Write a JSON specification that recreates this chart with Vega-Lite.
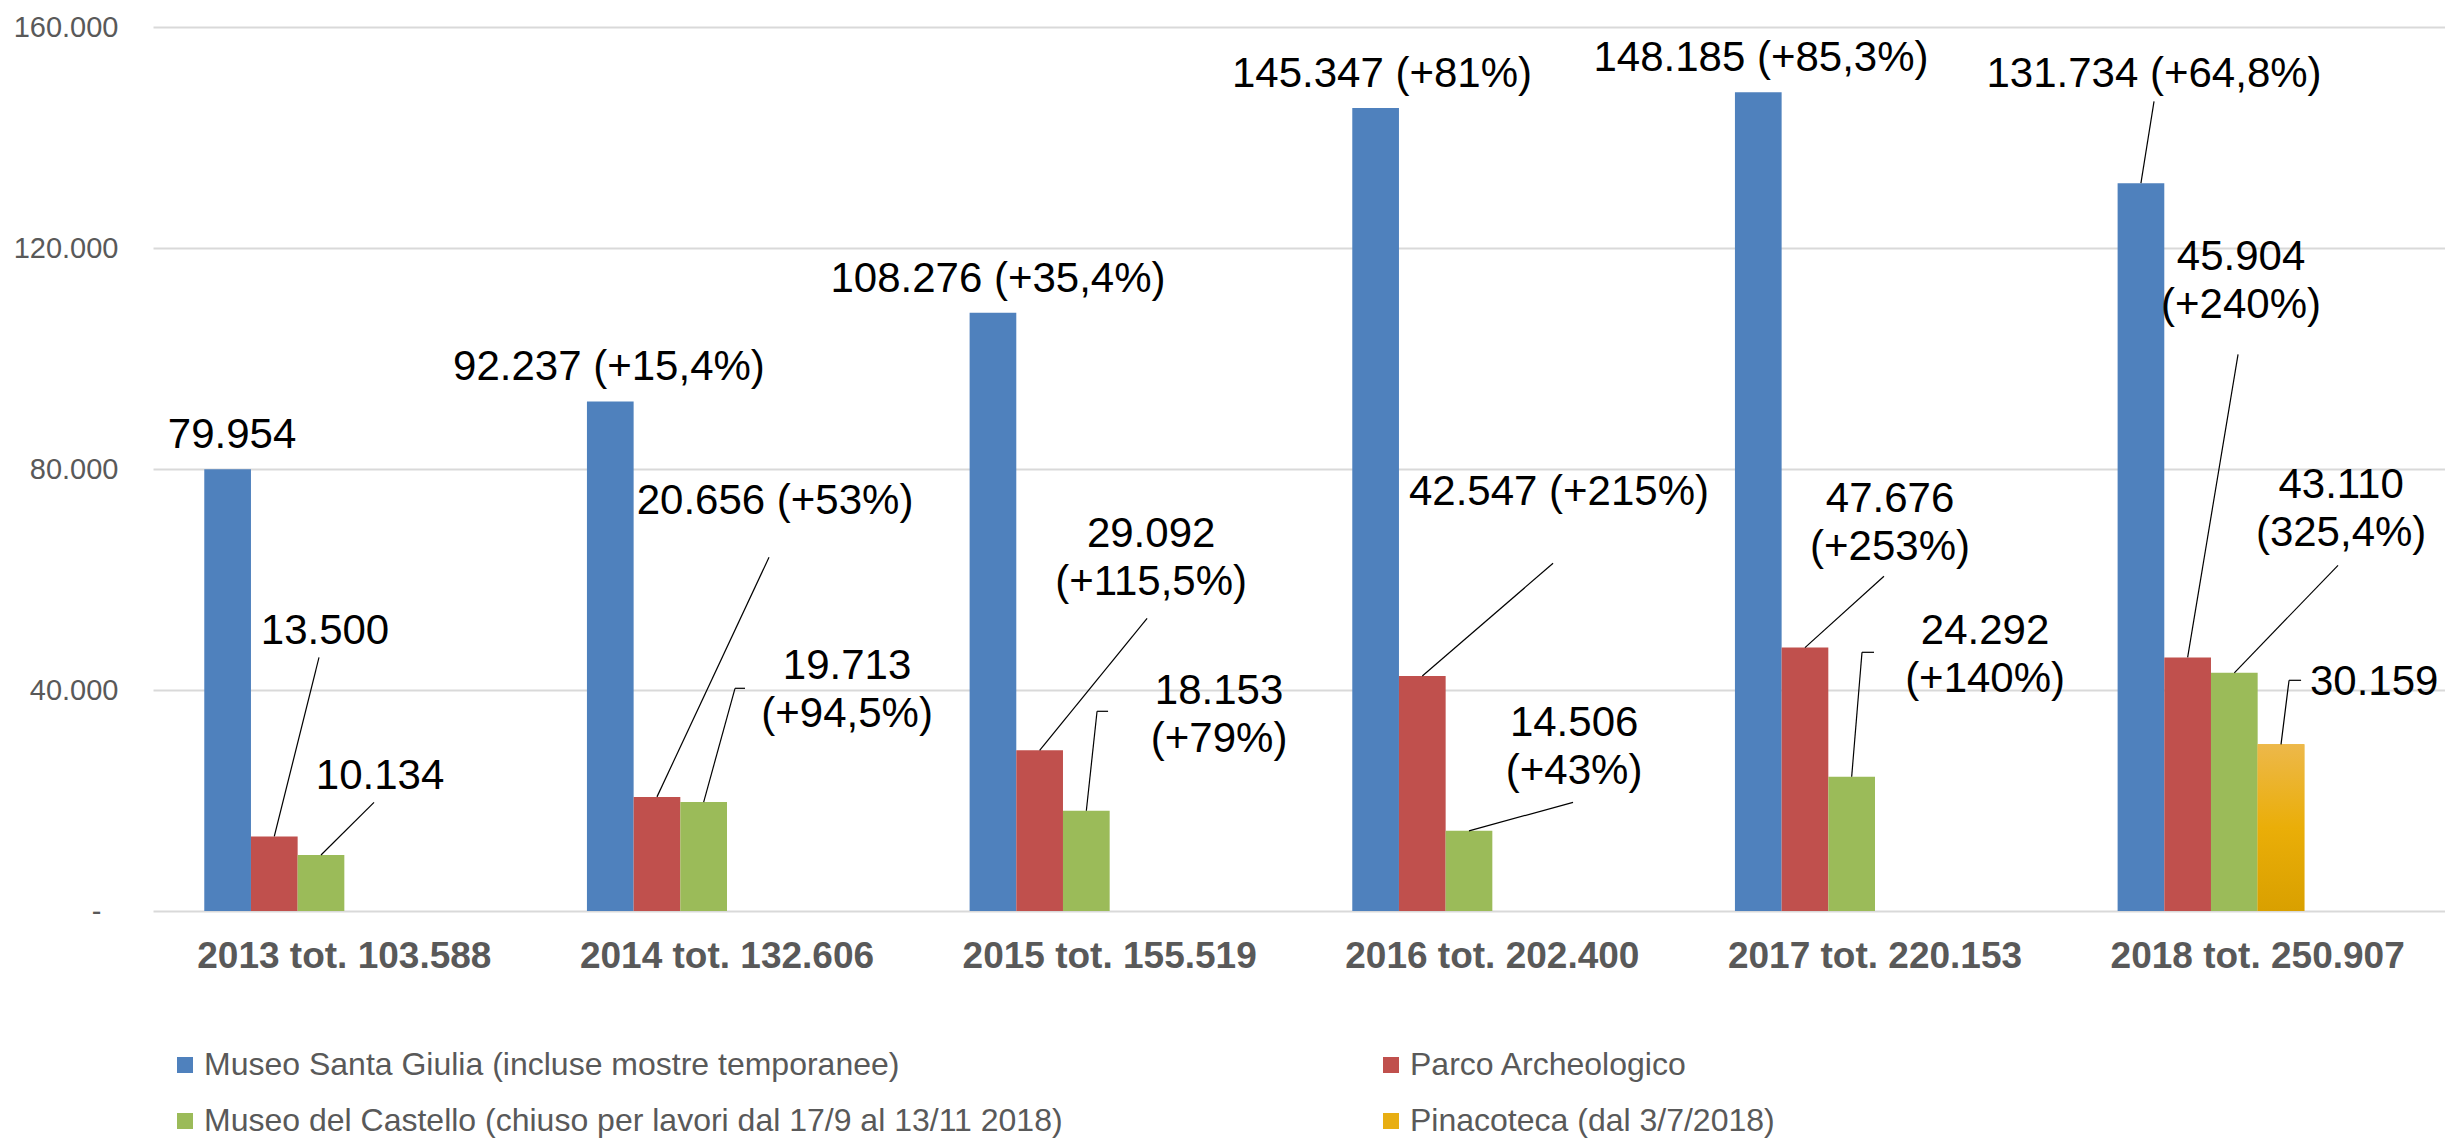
{
  "$schema": "https://vega.github.io/schema/vega-lite/v6.json",
  "width": 2296,
  "height": 884,
  "padding": {"left": 13, "top": 13, "right": 0, "bottom": 0},
  "background": "white",
  "data": {"values": [
    {"year": "2013 tot. 103.588", "series": "Museo Santa Giulia (incluse mostre temporanee)", "value": 79954, "label": "79.954"},
    {"year": "2013 tot. 103.588", "series": "Parco Archeologico", "value": 13500, "label": "13.500"},
    {"year": "2013 tot. 103.588", "series": "Museo del Castello (chiuso per lavori dal 17/9 al 13/11 2018)", "value": 10134, "label": "10.134"},
    {"year": "2014 tot. 132.606", "series": "Museo Santa Giulia (incluse mostre temporanee)", "value": 92237, "label": "92.237 (+15,4%)"},
    {"year": "2014 tot. 132.606", "series": "Parco Archeologico", "value": 20656, "label": "20.656  (+53%)"},
    {"year": "2014 tot. 132.606", "series": "Museo del Castello (chiuso per lavori dal 17/9 al 13/11 2018)", "value": 19713, "label": "19.713\n(+94,5%)"},
    {"year": "2015 tot. 155.519", "series": "Museo Santa Giulia (incluse mostre temporanee)", "value": 108276, "label": "108.276  (+35,4%)"},
    {"year": "2015 tot. 155.519", "series": "Parco Archeologico", "value": 29092, "label": "29.092\n(+115,5%)"},
    {"year": "2015 tot. 155.519", "series": "Museo del Castello (chiuso per lavori dal 17/9 al 13/11 2018)", "value": 18153, "label": "18.153\n(+79%)"},
    {"year": "2016 tot. 202.400", "series": "Museo Santa Giulia (incluse mostre temporanee)", "value": 145347, "label": "145.347 (+81%)"},
    {"year": "2016 tot. 202.400", "series": "Parco Archeologico", "value": 42547, "label": "42.547 (+215%)"},
    {"year": "2016 tot. 202.400", "series": "Museo del Castello (chiuso per lavori dal 17/9 al 13/11 2018)", "value": 14506, "label": "14.506\n(+43%)"},
    {"year": "2017 tot. 220.153", "series": "Museo Santa Giulia (incluse mostre temporanee)", "value": 148185, "label": "148.185 (+85,3%)"},
    {"year": "2017 tot. 220.153", "series": "Parco Archeologico", "value": 47676, "label": "47.676\n(+253%)"},
    {"year": "2017 tot. 220.153", "series": "Museo del Castello (chiuso per lavori dal 17/9 al 13/11 2018)", "value": 24292, "label": "24.292\n(+140%)"},
    {"year": "2018 tot. 250.907", "series": "Museo Santa Giulia (incluse mostre temporanee)", "value": 131734, "label": "131.734 (+64,8%)"},
    {"year": "2018 tot. 250.907", "series": "Parco Archeologico", "value": 45904, "label": "45.904\n(+240%)"},
    {"year": "2018 tot. 250.907", "series": "Museo del Castello (chiuso per lavori dal 17/9 al 13/11 2018)", "value": 43110, "label": "43.110\n(325,4%)"},
    {"year": "2018 tot. 250.907", "series": "Pinacoteca (dal 3/7/2018)", "value": 30159, "label": "30.159"}
  ]},
  "layer": [
    {
      "mark": {"type": "bar"},
      "encoding": {
        "x": {"field": "year", "type": "nominal", "title": null,
          "scale": {"paddingInner": 0.268, "paddingOuter": 0.134},
          "axis": {"title": null, "domain": false, "ticks": false, "tickSize": 0, "labelAngle": 0, "labelFontSize": 37, "labelFontWeight": "bold", "labelColor": "#595959", "labelFont": "Liberation Sans", "labelPadding": 27, "labelLimit": 1000}},
        "xOffset": {"field": "series", "type": "nominal",
          "scale": {"domain": ["Museo Santa Giulia (incluse mostre temporanee)", "Parco Archeologico", "Museo del Castello (chiuso per lavori dal 17/9 al 13/11 2018)", "Pinacoteca (dal 3/7/2018)", "slot5", "slot6"], "paddingInner": 0, "paddingOuter": 0}},
        "y": {"field": "value", "type": "quantitative", "title": null,
          "scale": {"domain": [0, 160000], "nice": false},
          "axis": {"title": null, "values": [0, 40000, 80000, 120000, 160000], "domain": false, "ticks": false, "tickSize": 0,
            "labelPadding": {"condition": {"test": "datum.value == 0", "value": 52}, "value": 35},
            "labelFontSize": 29, "labelColor": "#595959", "labelFont": "Liberation Sans", "gridColor": "#D9D9D9", "gridWidth": 2,
            "labelExpr": "datum.value == 0 ? '-' : replace(format(datum.value, ',.0f'), ',', '.')"}},
        "color": {"field": "series", "type": "nominal",
          "scale": {"domain": ["Museo Santa Giulia (incluse mostre temporanee)", "Parco Archeologico", "Museo del Castello (chiuso per lavori dal 17/9 al 13/11 2018)", "Pinacoteca (dal 3/7/2018)"],
            "range": ["#4F81BD", "#C0504D", "#9BBB59", "#E8AE12"]},
          "legend": {"title": null, "orient": "bottom", "direction": "horizontal", "columns": 2, "symbolType": "square", "symbolSize": 256, "symbolStrokeWidth": 0, "symbolOpacity": 1, "labelFontSize": 32, "labelColor": "#595959", "labelFont": "Liberation Sans", "labelLimit": 2000, "labelOffset": 3, "columnPadding": 312, "rowPadding": 24, "padding": 16, "offset": 59}}
      }
    },
    {
      "transform": [{"filter": "datum.series == 'Pinacoteca (dal 3/7/2018)'"}],
      "mark": {"type": "bar", "color": {"gradient": "linear", "x1": 0, "y1": 0, "x2": 0, "y2": 1, "stops": [{"offset": 0, "color": "#EDB84A"}, {"offset": 0.5, "color": "#EAAE08"}, {"offset": 1, "color": "#D9A000"}]}},
      "encoding": {
        "x": {"field": "year", "type": "nominal"},
        "xOffset": {"field": "series", "type": "nominal"},
        "y": {"field": "value", "type": "quantitative"}
      }
    },
    {"transform": [{"filter": "datum.value == 79954"}], "mark": "text", "encoding": {"x": {"field": "year", "type": "nominal", "bandPosition": 0.099}, "y": {"datum": 86100}, "text": {"field": "label"}}},
    {"transform": [{"filter": "datum.value == 13500"}], "mark": "text", "encoding": {"x": {"field": "year", "type": "nominal", "bandPosition": 0.431}, "y": {"datum": 50624}, "text": {"field": "label"}}},
    {"transform": [{"filter": "datum.value == 10134"}], "mark": "text", "encoding": {"x": {"field": "year", "type": "nominal", "bandPosition": 0.6275}, "y": {"datum": 24380}, "text": {"field": "label"}}},
    {"transform": [{"filter": "datum.value == 92237"}], "mark": "text", "encoding": {"x": {"field": "year", "type": "nominal", "bandPosition": 0.0786}, "y": {"datum": 98405}, "text": {"field": "label"}}},
    {"transform": [{"filter": "datum.value == 20656"}], "mark": "text", "encoding": {"x": {"field": "year", "type": "nominal", "bandPosition": 0.6715}, "y": {"datum": 74154}, "text": {"field": "label"}}},
    {"transform": [{"filter": "datum.value == 19713"}], "mark": "text", "encoding": {"x": {"field": "year", "type": "nominal", "bandPosition": 0.9287}, "y": {"datum": 44290}, "text": {"field": "label"}}},
    {"transform": [{"filter": "datum.value == 108276"}], "mark": "text", "encoding": {"x": {"field": "year", "type": "nominal", "bandPosition": 0.1014}, "y": {"datum": 114334}, "text": {"field": "label"}}},
    {"transform": [{"filter": "datum.value == 29092"}], "mark": "text", "encoding": {"x": {"field": "year", "type": "nominal", "bandPosition": 0.648}, "y": {"datum": 68181}, "text": {"field": "label"}}},
    {"transform": [{"filter": "datum.value == 18153"}], "mark": "text", "encoding": {"x": {"field": "year", "type": "nominal", "bandPosition": 0.8907}, "y": {"datum": 39765}, "text": {"field": "label"}}},
    {"transform": [{"filter": "datum.value == 145347"}], "mark": "text", "encoding": {"x": {"field": "year", "type": "nominal", "bandPosition": 0.106}, "y": {"datum": 151439}, "text": {"field": "label"}}},
    {"transform": [{"filter": "datum.value == 42547"}], "mark": "text", "encoding": {"x": {"field": "year", "type": "nominal", "bandPosition": 0.738}, "y": {"datum": 75783}, "text": {"field": "label"}}},
    {"transform": [{"filter": "datum.value == 14506"}], "mark": "text", "encoding": {"x": {"field": "year", "type": "nominal", "bandPosition": 0.792}, "y": {"datum": 33973}, "text": {"field": "label"}}},
    {"transform": [{"filter": "datum.value == 148185"}], "mark": "text", "encoding": {"x": {"field": "year", "type": "nominal", "bandPosition": 0.093}, "y": {"datum": 154334}, "text": {"field": "label"}}},
    {"transform": [{"filter": "datum.value == 47676"}], "mark": "text", "encoding": {"x": {"field": "year", "type": "nominal", "bandPosition": 0.5537}, "y": {"datum": 74516}, "text": {"field": "label"}}},
    {"transform": [{"filter": "datum.value == 24292"}], "mark": "text", "encoding": {"x": {"field": "year", "type": "nominal", "bandPosition": 0.893}, "y": {"datum": 50624}, "text": {"field": "label"}}},
    {"transform": [{"filter": "datum.value == 131734"}], "mark": "text", "encoding": {"x": {"field": "year", "type": "nominal", "bandPosition": 0.13}, "y": {"datum": 151439}, "text": {"field": "label"}}},
    {"transform": [{"filter": "datum.value == 45904"}], "mark": "text", "encoding": {"x": {"field": "year", "type": "nominal", "bandPosition": 0.4407}, "y": {"datum": 118317}, "text": {"field": "label"}}},
    {"transform": [{"filter": "datum.value == 43110"}], "mark": "text", "encoding": {"x": {"field": "year", "type": "nominal", "bandPosition": 0.7979}, "y": {"datum": 77050}, "text": {"field": "label"}}},
    {"transform": [{"filter": "datum.value == 30159"}], "mark": "text", "encoding": {"x": {"field": "year", "type": "nominal", "bandPosition": 0.916}, "y": {"datum": 41394}, "text": {"field": "label"}}},

    {"transform": [{"filter": "datum.value == 13500"}], "mark": "rule", "encoding": {"x": {"field": "year", "type": "nominal", "bandPosition": 0.25}, "x2": {"field": "year", "bandPosition": 0.4096}, "y": {"field": "value", "type": "quantitative"}, "y2": {"datum": 45918}}},
    {"transform": [{"filter": "datum.value == 10134"}], "mark": "rule", "encoding": {"x": {"field": "year", "type": "nominal", "bandPosition": 0.4167}, "x2": {"field": "year", "bandPosition": 0.606}, "y": {"field": "value", "type": "quantitative"}, "y2": {"datum": 19674}}},
    {"transform": [{"filter": "datum.value == 20656"}], "mark": "rule", "encoding": {"x": {"field": "year", "type": "nominal", "bandPosition": 0.25}, "x2": {"field": "year", "bandPosition": 0.65}, "y": {"field": "value", "type": "quantitative"}, "y2": {"datum": 64018}}},
    {"transform": [{"filter": "datum.value == 19713"}], "mark": "rule", "encoding": {"x": {"field": "year", "type": "nominal", "bandPosition": 0.4167}, "x2": {"field": "year", "bandPosition": 0.5286}, "y": {"field": "value", "type": "quantitative"}, "y2": {"datum": 40308}}},
    {"transform": [{"filter": "datum.value == 19713"}], "mark": "rule", "encoding": {"x": {"field": "year", "type": "nominal", "bandPosition": 0.5286}, "x2": {"field": "year", "bandPosition": 0.5643}, "y": {"datum": 40308}}},
    {"transform": [{"filter": "datum.value == 29092"}], "mark": "rule", "encoding": {"x": {"field": "year", "type": "nominal", "bandPosition": 0.25}, "x2": {"field": "year", "bandPosition": 0.6336}, "y": {"field": "value", "type": "quantitative"}, "y2": {"datum": 52977}}},
    {"transform": [{"filter": "datum.value == 18153"}], "mark": "rule", "encoding": {"x": {"field": "year", "type": "nominal", "bandPosition": 0.4167}, "x2": {"field": "year", "bandPosition": 0.455}, "y": {"field": "value", "type": "quantitative"}, "y2": {"datum": 36145}}},
    {"transform": [{"filter": "datum.value == 18153"}], "mark": "rule", "encoding": {"x": {"field": "year", "type": "nominal", "bandPosition": 0.455}, "x2": {"field": "year", "bandPosition": 0.4943}, "y": {"datum": 36145}}},
    {"transform": [{"filter": "datum.value == 42547"}], "mark": "rule", "encoding": {"x": {"field": "year", "type": "nominal", "bandPosition": 0.25}, "x2": {"field": "year", "bandPosition": 0.7168}, "y": {"field": "value", "type": "quantitative"}, "y2": {"datum": 62932}}},
    {"transform": [{"filter": "datum.value == 14506"}], "mark": "rule", "encoding": {"x": {"field": "year", "type": "nominal", "bandPosition": 0.4167}, "x2": {"field": "year", "bandPosition": 0.7882}, "y": {"field": "value", "type": "quantitative"}, "y2": {"datum": 19674}}},
    {"transform": [{"filter": "datum.value == 47676"}], "mark": "rule", "encoding": {"x": {"field": "year", "type": "nominal", "bandPosition": 0.25}, "x2": {"field": "year", "bandPosition": 0.532}, "y": {"field": "value", "type": "quantitative"}, "y2": {"datum": 60579}}},
    {"transform": [{"filter": "datum.value == 24292"}], "mark": "rule", "encoding": {"x": {"field": "year", "type": "nominal", "bandPosition": 0.4167}, "x2": {"field": "year", "bandPosition": 0.4536}, "y": {"field": "value", "type": "quantitative"}, "y2": {"datum": 46823}}},
    {"transform": [{"filter": "datum.value == 24292"}], "mark": "rule", "encoding": {"x": {"field": "year", "type": "nominal", "bandPosition": 0.4536}, "x2": {"field": "year", "bandPosition": 0.4964}, "y": {"datum": 46823}}},
    {"transform": [{"filter": "datum.value == 131734"}], "mark": "rule", "encoding": {"x": {"field": "year", "type": "nominal", "bandPosition": 0.0833}, "x2": {"field": "year", "bandPosition": 0.13}, "y": {"field": "value", "type": "quantitative"}, "y2": {"datum": 146552}}},
    {"transform": [{"filter": "datum.value == 45904"}], "mark": "rule", "encoding": {"x": {"field": "year", "type": "nominal", "bandPosition": 0.25}, "x2": {"field": "year", "bandPosition": 0.43}, "y": {"field": "value", "type": "quantitative"}, "y2": {"datum": 100760}}},
    {"transform": [{"filter": "datum.value == 43110"}], "mark": "rule", "encoding": {"x": {"field": "year", "type": "nominal", "bandPosition": 0.4167}, "x2": {"field": "year", "bandPosition": 0.7869}, "y": {"field": "value", "type": "quantitative"}, "y2": {"datum": 62570}}},
    {"transform": [{"filter": "datum.value == 30159"}], "mark": "rule", "encoding": {"x": {"field": "year", "type": "nominal", "bandPosition": 0.5833}, "x2": {"field": "year", "bandPosition": 0.612}, "y": {"field": "value", "type": "quantitative"}, "y2": {"datum": 41755}}},
    {"transform": [{"filter": "datum.value == 30159"}], "mark": "rule", "encoding": {"x": {"field": "year", "type": "nominal", "bandPosition": 0.612}, "x2": {"field": "year", "bandPosition": 0.655}, "y": {"datum": 41755}}}
  ],
  "config": {
    "view": {"stroke": null},
    "font": "Liberation Sans",
    "text": {"fontSize": 42, "font": "Liberation Sans", "color": "#000000", "baseline": "middle", "align": "center", "lineBreak": "\n", "lineHeight": 48},
    "rule": {"color": "#000000", "strokeWidth": 1.2}
  }
}
